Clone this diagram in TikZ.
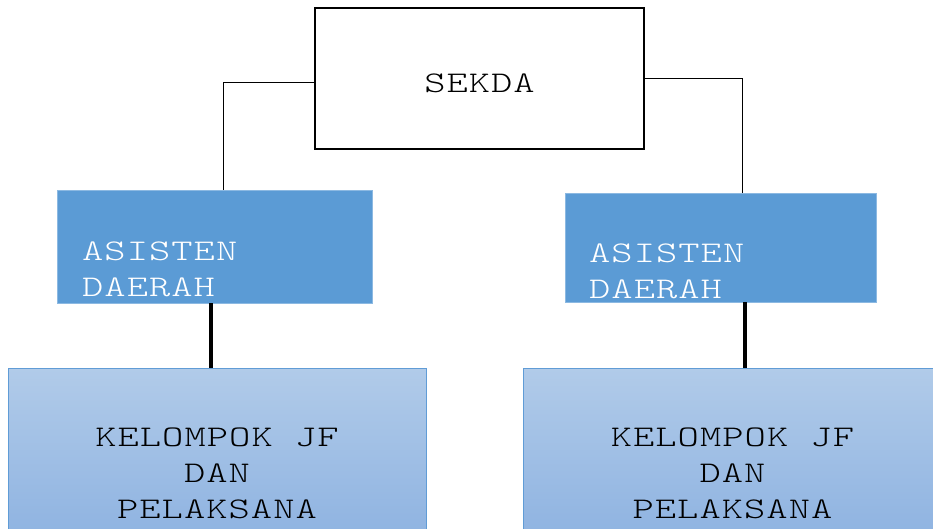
\documentclass[tikz,border=0pt]{standalone}
\usepackage{fontspec}
\usepackage[dvipsnames]{xcolor}
\usepackage{tikz}
\usetikzlibrary{calc}
\newfontfamily\orgfont[Extension=.otf, FakeStretch=1.35, LetterSpace=3.5]{lmmonolt10-regular}
\definecolor{asistenblue}{RGB}{91,155,213}
\definecolor{jftop}{RGB}{177,203,233}
\definecolor{jfbottom}{RGB}{134,173,223}
\definecolor{jfedge}{RGB}{96,156,214}

\begin{document}
\begin{tikzpicture} [
    x=1pt, y=-1pt,
    every node/.style = {font=\orgfont\fontsize{30}{36}\selectfont, inner sep=0pt},
    headbox/.style = {draw=black, line width=2pt, fill=white},
    asistenbox/.style = {fill=asistenblue, draw=asistenblue!70!white, line width=0.6pt},
    jfbox/.style = {draw=jfedge, line width=1pt, top color=jftop, bottom color=jfbottom,
                    align=center},
    thinlink/.style = {line width=1pt},
    thicklink/.style = {line width=3.5pt}
]
    \useasboundingbox (0,0) rectangle (933,528);
    \clip (0,0) rectangle (933,528);

    \node [headbox, minimum width=329pt, minimum height=141pt] (sekda) at (479.5,78.5) {};
    \node [anchor=base] (sekdatext) at (479.5,92) {SEKDA};

    \node [asistenbox, minimum width=315pt, minimum height=113pt] (asistenL) at (214.5,246.5) {};
    \node [asistenbox, minimum width=311pt, minimum height=109pt] (asistenR) at (720.5,247.5) {};
    \node [anchor=base west, align=left, text=white] (asistenLtext) at (82,296) {ASISTEN\\DAERAH};
    \node [anchor=base west, align=left, text=white] (asistenRtext) at (589,298) {ASISTEN\\DAERAH};

    \node [jfbox, minimum width=418pt, minimum height=212pt] (jfL) at (217,474) {};
    \node [jfbox, minimum width=419pt, minimum height=212pt] (jfR) at (732.5,474) {};
    \node [anchor=base, align=center] (jfLtext) at (217,518) {KELOMPOK JF\\DAN\\PELAKSANA};
    \node [anchor=base, align=center] (jfRtext) at (732.5,518) {KELOMPOK JF\\DAN\\PELAKSANA};

    % garis dari sekda ke asisten
    \draw [thinlink] ([yshift=-3.5pt]sekda.west) -| ([xshift=8.5pt]asistenL.north);
    \draw [thinlink] (sekda.east) -| ([xshift=21.5pt]asistenR.north);

    % garis dari asisten ke kelompok jf
    \draw [thicklink] ([xshift=-3.5pt]asistenL.south) -- ([xshift=-3.5pt]asistenL.south |- jfL.north);
    \draw [thicklink] ([xshift=24.5pt]asistenR.south) -- ([xshift=24.5pt]asistenR.south |- jfR.north);
\end{tikzpicture}
\end{document}
